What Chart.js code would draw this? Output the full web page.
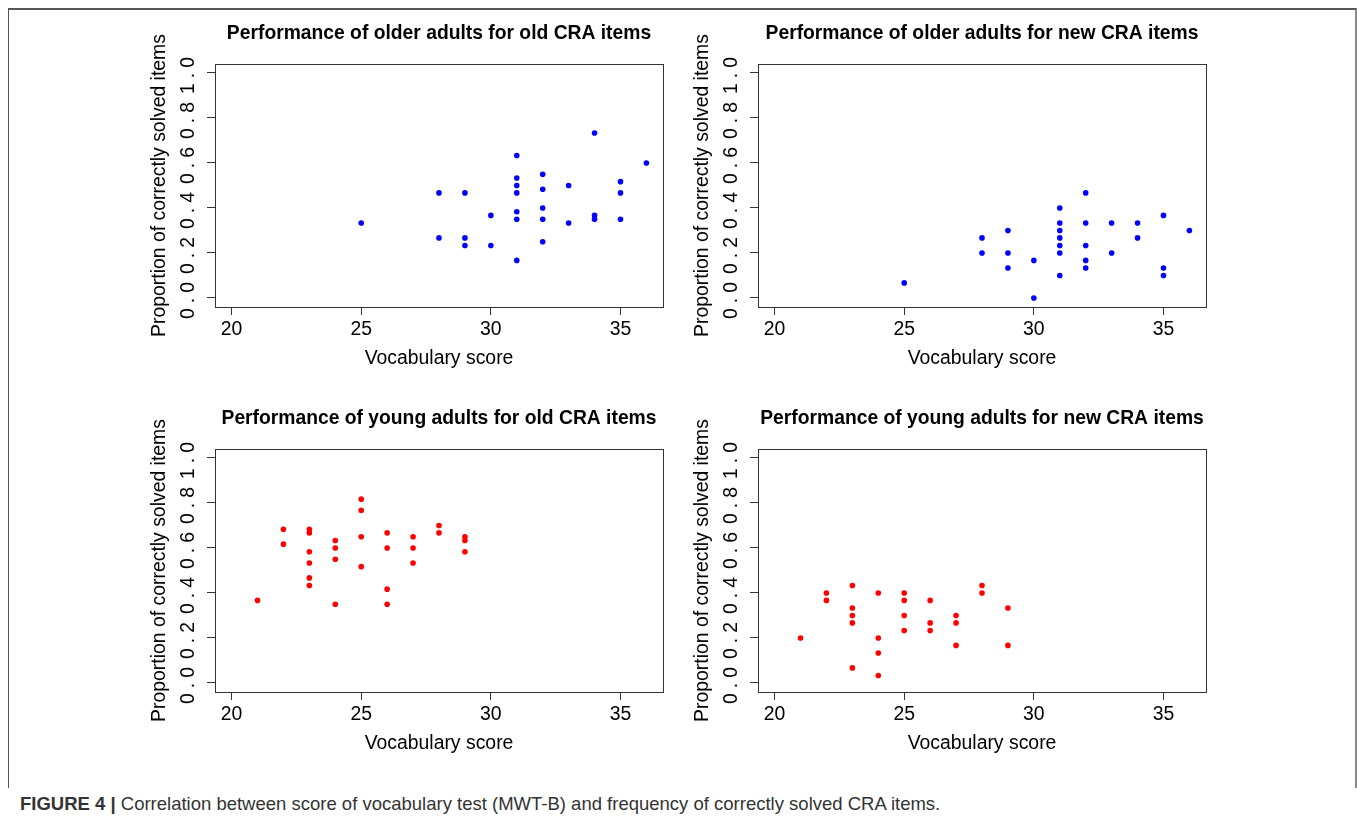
<!DOCTYPE html>
<html><head><meta charset="utf-8">
<script src="https://cdn.jsdelivr.net/npm/chart.js@4"></script>
<style>
body{margin:0;width:1357px;height:816px;background:#fff;position:relative;overflow:hidden;font-family:"Liberation Sans",Arial,sans-serif;}
canvas{position:absolute;}
#frame{position:absolute;left:8px;top:8px;width:1349px;height:780px;border-top:2px solid #555;border-left:1px solid #555;border-right:2px solid #888;box-sizing:border-box;}
#caption{position:absolute;left:20px;top:793px;font-size:18.5px;line-height:22px;color:#333;white-space:nowrap;}
</style></head><body>
<div id="frame"></div>
<canvas id="c0" width="560" height="385" style="left:120px;top:0px"></canvas>
<canvas id="c1" width="560" height="385" style="left:663px;top:0px"></canvas>
<canvas id="c2" width="560" height="385" style="left:120px;top:385px"></canvas>
<canvas id="c3" width="560" height="385" style="left:663px;top:385px"></canvas>
<div id="caption"><b>FIGURE 4 |</b> Correlation between score of vocabulary test (MWT-B) and frequency of correctly solved CRA items.</div>
<script>
const xTickValues = [20, 25, 30, 35];
const yTickValues = [0, 0.2, 0.4, 0.6, 0.8, 1.0];
const panelTitles = [
  'Performance of older adults for old CRA items',
  'Performance of older adults for new CRA items',
  'Performance of young adults for old CRA items',
  'Performance of young adults for new CRA items'
];
const xAxisTitle = 'Vocabulary score';
const yAxisTitle = 'Proportion of correctly solved items';

const olderOldX = [25, 28, 28, 29, 29, 29, 30, 30, 31, 31, 31, 31, 31, 31, 31, 32, 32, 32, 32, 32, 33, 33, 34, 34, 34, 35, 35, 35, 36];
const olderOldY = [0.333, 0.467, 0.267, 0.467, 0.267, 0.233, 0.367, 0.233, 0.633, 0.533, 0.5, 0.467, 0.383, 0.35, 0.167, 0.55, 0.483, 0.4, 0.35, 0.25, 0.5, 0.333, 0.733, 0.367, 0.35, 0.517, 0.467, 0.35, 0.6];

const olderNewX = [25, 28, 28, 29, 29, 29, 30, 30, 31, 31, 31, 31, 31, 31, 31, 32, 32, 32, 32, 32, 33, 33, 34, 34, 35, 35, 35, 36];
const olderNewY = [0.067, 0.267, 0.2, 0.3, 0.2, 0.133, 0.167, 0, 0.4, 0.333, 0.3, 0.267, 0.233, 0.2, 0.1, 0.467, 0.333, 0.233, 0.167, 0.133, 0.333, 0.2, 0.333, 0.267, 0.367, 0.133, 0.1, 0.3];

const youngOldX = [21, 22, 22, 23, 23, 23, 23, 23, 23, 24, 24, 24, 24, 25, 25, 25, 25, 26, 26, 26, 26, 27, 27, 27, 28, 28, 29, 29, 29];
const youngOldY = [0.367, 0.683, 0.617, 0.683, 0.667, 0.583, 0.533, 0.467, 0.433, 0.633, 0.6, 0.55, 0.35, 0.817, 0.767, 0.65, 0.517, 0.667, 0.6, 0.417, 0.35, 0.65, 0.6, 0.533, 0.7, 0.667, 0.65, 0.633, 0.583];

const youngNewX = [21, 22, 22, 23, 23, 23, 23, 23, 24, 24, 24, 24, 25, 25, 25, 25, 26, 26, 26, 27, 27, 27, 28, 28, 29, 29];
const youngNewY = [0.2, 0.4, 0.367, 0.433, 0.333, 0.3, 0.267, 0.067, 0.4, 0.2, 0.133, 0.033, 0.4, 0.367, 0.3, 0.233, 0.367, 0.267, 0.233, 0.3, 0.267, 0.167, 0.433, 0.4, 0.333, 0.167];

const FONT = '"Liberation Sans", Arial, Helvetica, sans-serif';
const LABEL_SIZE = 19.4;

const boxPlugin = {
  id: 'rbox',
  beforeDatasetsDraw(chart) {
    const a = chart.chartArea, ctx = chart.ctx;
    ctx.save();
    ctx.strokeStyle = '#333';
    ctx.lineWidth = 1;
    ctx.strokeRect(Math.round(a.left) + 0.5, Math.round(a.top) + 0.5, Math.round(a.right - a.left), Math.round(a.bottom - a.top));
    ctx.restore();
  },
  afterDraw(chart) {
    const s = chart.scales.y, ctx = chart.ctx;
    ctx.save();
    ctx.translate(s.left + 20, (s.top + s.bottom) / 2);
    ctx.rotate(-Math.PI / 2);
    ctx.font = LABEL_SIZE + 'px ' + FONT;
    ctx.fillStyle = '#000';
    ctx.textAlign = 'center';
    ctx.textBaseline = 'middle';
    ctx.fillText(yAxisTitle, 0, 0);
    ctx.restore();
  },
  beforeDraw(chart) {
    const s = chart.scales.y;
    if (!s._spaced) {
      const orig = s.drawLabels;
      s.drawLabels = function (area) {
        const prev = this.ctx.letterSpacing;
        this.ctx.letterSpacing = '5px';
        orig.call(this, area);
        this.ctx.letterSpacing = prev || '0px';
      };
      s._spaced = true;
    }
  }
};

const panels = [
  {id: 'c0', title: panelTitles[0], xs: olderOldX, ys: olderOldY, color: '#0000ff'},
  {id: 'c1', title: panelTitles[1], xs: olderNewX, ys: olderNewY, color: '#0000ff'},
  {id: 'c2', title: panelTitles[2], xs: youngOldX, ys: youngOldY, color: '#ff0000'},
  {id: 'c3', title: panelTitles[3], xs: youngNewX, ys: youngNewY, color: '#ff0000'}
];

const gridOpts = {display: true, drawOnChartArea: false, drawTicks: true, tickLength: 8, color: '#333', lineWidth: 1};

panels.forEach(p => {
  new Chart(document.getElementById(p.id), {
    type: 'scatter',
    data: {datasets: [{
      data: p.xs.map((v, i) => ({x: v, y: p.ys[i]})),
      backgroundColor: p.color, borderColor: p.color, borderWidth: 0,
      pointRadius: 2.8, pointHoverRadius: 2.8
    }]},
    options: {
      responsive: false, animation: false, devicePixelRatio: 1,
      events: [],
      layout: {padding: {left: 20, right: 17, top: 0, bottom: 8}},
      plugins: {
        legend: {display: false}, tooltip: {enabled: false},
        title: {display: true, text: p.title, fullSize: false, color: '#000',
          font: {family: FONT, size: 19.3, weight: 'bold', lineHeight: 1.2},
          padding: {top: 21.9, bottom: 18.9}}
      },
      scales: {
        x: {
          type: 'linear', min: 19.36, max: 36.64,
          afterBuildTicks: s => { s.ticks = xTickValues.map(v => ({value: v})); },
          afterFit: s => { s.height = 70; },
          grid: gridOpts, border: {display: false},
          ticks: {color: '#000', font: {family: FONT, size: LABEL_SIZE}, padding: 3, autoSkip: false, maxRotation: 0, callback: v => String(v)},
          title: {display: true, text: xAxisTitle, color: '#000', font: {family: FONT, size: LABEL_SIZE, lineHeight: 1.2}, padding: {top: 0, bottom: 6.4}}
        },
        y: {
          type: 'linear', min: -0.04, max: 1.04,
          afterBuildTicks: s => { s.ticks = yTickValues.map(v => ({value: v})); },
          afterFit: s => { s.width = 75; },
          grid: gridOpts, border: {display: false},
          ticks: {color: '#000', font: {family: FONT, size: LABEL_SIZE}, padding: 4.5, autoSkip: false, minRotation: 90, maxRotation: 90, crossAlign: 'center', callback: v => v.toFixed(1)}
        }
      }
    },
    plugins: [boxPlugin]
  });
});
</script>
</body></html>
